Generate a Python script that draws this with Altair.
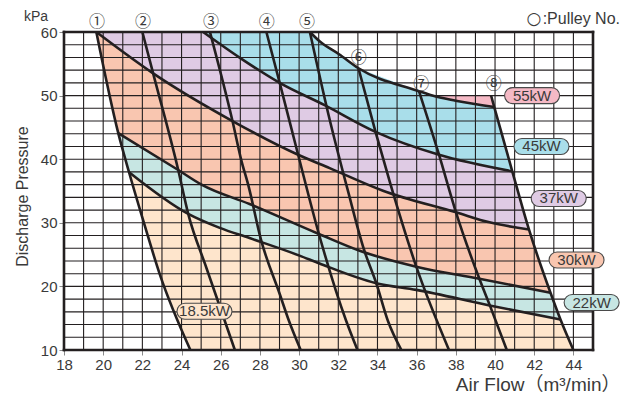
import altair as alt
import pandas as pd

FONT = "Liberation Sans, Noto Sans CJK JP"
CJK = "Noto Sans CJK JP"
LINE = "#231F20"
TEXT = "#3a3a3a"

# axes / grid
X_TICKS = list(range(18, 46, 2))
Y_TICKS = list(range(10, 61, 10))
GRID_X = list(range(19, 45))
GRID_Y = list(range(12, 60, 2))
FRAME_X = [18, 45]
FRAME_Y = [10, 60]

# pulley lines (air flow, pressure), top to bottom
P1 = [(19.65, 60), (20.77, 44.1), (21.32, 37.95), (22.0, 30.8), (22.89, 21.9), (24.45, 10)]
P2 = [(22.0, 60), (22.55, 53.5), (23.83, 38.3), (24.34, 31.4), (25.27, 22.9), (26.72, 10)]
P3 = [(25.45, 60), (26.6, 46.0), (27.06, 39.7), (27.4, 36.0), (28.05, 27.4), (29.01, 18.8), (29.48, 14.6), (30.08, 10)]
P4 = [(28.33, 60), (29.01, 52.0), (29.95, 40.7), (31.01, 28.24), (32.4, 14.6), (32.98, 10)]
P5 = [(30.55, 60), (31.5, 47.0), (32.49, 35.05), (33.31, 25.8), (33.94, 20.5), (34.53, 14.6), (35.22, 10)]
P6 = [(33.03, 54.3), (33.9, 44.3), (34.67, 36.0), (35.98, 23.1), (37.65, 10)]
P7 = [(36.12, 50.7), (37.14, 40.7), (37.99, 31.8), (39.2, 21.2), (39.75, 16.9), (40.6, 10)]
P8 = [(39.8, 50.0), (39.96, 48.2), (40.88, 38.1), (41.73, 28.96), (42.83, 19.0), (43.34, 14.8), (44.0, 10)]

# power curves (left to right)
C18 = [(21.32, 37.95), (24.34, 31.4), (25.95, 29.2), (27.47, 27.6), (30.02, 24.84), (31.04, 23.6),
       (33.94, 20.5), (35.98, 19.45), (39.72, 17.0), (43.34, 14.8)]
C22 = [(20.77, 44.1), (23.83, 38.3), (25.02, 36.0), (27.47, 32.95), (31.01, 28.24), (33.09, 25.6),
       (35.98, 23.1), (39.2, 21.2), (42.83, 19.0)]
C30 = [(19.65, 60), (22.55, 53.5), (26.6, 46.0), (29.95, 40.7), (31.56, 38.6), (34.28, 35.05),
       (38.02, 31.64), (39.72, 30.07), (41.73, 28.96)]
C37 = [(25.1, 60), (27.0, 55.9), (29.01, 52.0), (31.3, 48.5), (33.9, 44.3), (37.14, 40.7), (40.88, 38.1)]
C45 = [(30.55, 60), (31.06, 58.5), (32.04, 56.5), (33.03, 54.3), (36.12, 50.7), (36.8, 50.0),
       (37.99, 49.2), (39.96, 48.2)]

REGIONS = ["18.5kW", "22kW", "30kW", "37kW", "45kW", "55kW"]
COLORS = ["#FEE5CC", "#C7E6E3", "#F9C6B0", "#DFCBE4", "#A9DEEA", "#F5B9C5"]

KW_LABEL_X = [25.17, 44.93, 44.16, 43.25, 42.37, 41.89]
KW_LABEL_Y = [16.09, 17.46, 24.14, 33.83, 42.0, 50.0]

PULLEY_NAMES = ["①", "②", "③", "④", "⑤", "⑥", "⑦", "⑧"]
PULLEY_LABEL_X = [19.68, 22.03, 25.5, 28.35, 30.4, 33.05, 36.24, 39.93]
PULLEY_LABEL_Y = [61.6, 61.6, 61.6, 61.6, 61.6, 55.9, 51.85, 51.75]

# ---- build tables ----
W, H = 529, 318
XD, YD = [18, 45], [10, 60]
ux = (XD[1] - XD[0]) / W
uy = (YD[1] - YD[0]) / H


def seg(line, a, b):
    i, j = line.index(a), line.index(b)
    return line[i:j + 1] if i <= j else line[j:i + 1][::-1]


pink_start = C45.index((36.8, 50.0))
polys = {
    "18.5kW": C18 + seg(P8, C18[-1], P8[-1]) + seg(P1, P1[-1], C18[0]),
    "22kW": C22 + seg(P8, C22[-1], C18[-1]) + C18[::-1] + seg(P1, C18[0], C22[0]),
    "30kW": C30 + seg(P8, C30[-1], C22[-1]) + C22[::-1] + seg(P1, C22[0], C30[0]),
    "37kW": C37 + seg(P8, C37[-1], C30[-1]) + C30[::-1],
    "45kW": C45 + seg(P8, C45[-1], C37[-1]) + C37[::-1],
    "55kW": C45[pink_start:] + seg(P8, C45[-1], P8[0]),
}

xscale = alt.Scale(domain=XD, nice=False, zero=False)
yscale = alt.Scale(domain=YD, nice=False, zero=False)
x_axis = alt.Axis(values=X_TICKS, title="Air Flow（m³/min）", grid=False, domain=False,
                  tickSize=5, tickColor="#8a8a8a", tickWidth=1, labelFlush=False,
                  labelFont=FONT, labelFontSize=15, labelColor=TEXT, labelPadding=2,
                  titleFont=FONT, titleFontSize=19, titleFontWeight="normal", titleColor=TEXT,
                  titleX=556, titleY=40, titleAlign="right", titleBaseline="alphabetic")
y_axis = alt.Axis(values=Y_TICKS, title="Discharge Pressure", grid=False, domain=False,
                  tickSize=5, tickColor="#8a8a8a", tickWidth=1, labelFlush=False,
                  labelFont=FONT, labelFontSize=15, labelColor=TEXT, labelPadding=2,
                  titleFont=FONT, titleFontSize=16, titleFontWeight="normal", titleColor=TEXT,
                  titleX=-42, titleY=164, titleAngle=270, titleAlign="center", titleBaseline="middle")
X = alt.X("x:Q", scale=xscale, axis=x_axis)
Y = alt.Y("y:Q", scale=yscale, axis=y_axis)

layers = []
for r, c in zip(REGIONS, COLORS):
    d = pd.DataFrame([{"k": k, "x": p[0], "y": p[1]} for k, p in enumerate(polys[r])])
    layers.append(alt.Chart(d).mark_line(fill=c, strokeOpacity=0, strokeWidth=0)
                  .encode(x=X, y=Y, order="k:Q"))

grid_x = alt.Chart(pd.DataFrame({"x": GRID_X})).mark_rule(color=LINE, strokeWidth=1.1).encode(x=X)
grid_y = alt.Chart(pd.DataFrame({"y": GRID_Y})).mark_rule(color=LINE, strokeWidth=1.1).encode(y=Y)
layers += [grid_x, grid_y]

rows = []
for n, line in enumerate([P1, P2, P3, P4, P5, P6, P7, P8, C18, C22, C30, C37, C45]):
    for k, (x, y) in enumerate(line):
        rows.append({"name": n, "k": k, "x": x, "y": y})
curves = alt.Chart(pd.DataFrame(rows)).mark_line(
    color=LINE, strokeWidth=2.6, interpolate="monotone").encode(
    x=X, y=Y, detail="name:N", order="k:Q")
layers.append(curves)

frame_x = alt.Chart(pd.DataFrame({"x": FRAME_X})).mark_rule(
    color=LINE, strokeWidth=2.6, strokeCap="square").encode(x=X)
frame_y = alt.Chart(pd.DataFrame({"y": FRAME_Y})).mark_rule(
    color=LINE, strokeWidth=2.6, strokeCap="square").encode(y=Y)
layers += [frame_x, frame_y]

lab = pd.DataFrame({"region": REGIONS, "x": KW_LABEL_X, "y": KW_LABEL_Y})
lab["x0"] = lab["x"] - 27.5 * ux
lab["x1"] = lab["x"] + 27.5 * ux
lab["y0"] = lab["y"] - 8 * uy
lab["y1"] = lab["y"] + 8 * uy
boxes = alt.Chart(lab).mark_rect(cornerRadius=8, stroke="#4a4a4a", strokeWidth=1.1).encode(
    x=alt.X("x0:Q", scale=xscale, axis=x_axis), x2="x1:Q",
    y=alt.Y("y0:Q", scale=yscale, axis=y_axis), y2="y1:Q",
    fill=alt.Fill("region:N", scale=alt.Scale(domain=REGIONS, range=COLORS), legend=None))
btext = alt.Chart(lab).mark_text(font=FONT, fontSize=15, color=TEXT).encode(
    x=X, y=Y, text="region:N")
layers += [boxes, btext]

pl = pd.DataFrame({"t": PULLEY_NAMES, "x": PULLEY_LABEL_X, "y": PULLEY_LABEL_Y})
ptext = alt.Chart(pl).mark_text(font=CJK, fontSize=16, color=TEXT).encode(
    x=X, y=Y, text="t:N")
layers.append(ptext)

kpa = alt.Chart(pd.DataFrame({"t": ["kPa"]})).mark_text(
    font=FONT, fontSize=14, color=TEXT, align="center", baseline="alphabetic").encode(
    x=alt.value(-28), y=alt.value(-11), text="t:N")
note_circle = alt.Chart(pd.DataFrame({"t": ["○"]})).mark_text(
    font="DejaVu Sans", fontSize=17, color=TEXT, align="center", baseline="middle").encode(
    x=alt.value(470), y=alt.value(-13), text="t:N")
note_text = alt.Chart(pd.DataFrame({"t": [":Pulley No."]})).mark_text(
    font=FONT, fontSize=16, color=TEXT, align="right", baseline="middle").encode(
    x=alt.value(556), y=alt.value(-13), text="t:N")
layers += [kpa, note_circle, note_text]

chart = alt.layer(*layers).properties(
    width=W, height=H,
    autosize=alt.AutoSizeParams(type="none"),
    padding={"left": 56, "top": 24, "right": 29, "bottom": 43},
).configure_view(stroke=None)

chart.save("out.html", embed_options={"renderer": "svg", "actions": False})
